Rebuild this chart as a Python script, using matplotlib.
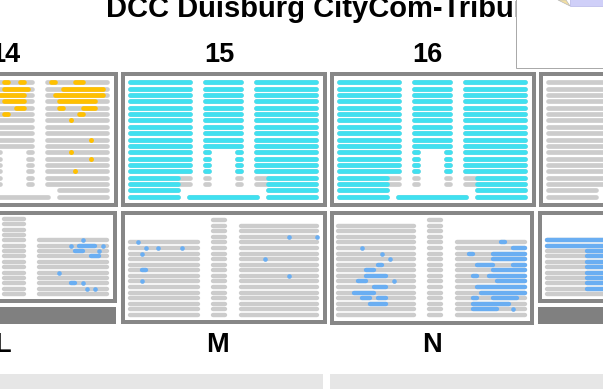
import matplotlib
matplotlib.use("Agg")
import matplotlib.pyplot as plt
from matplotlib.patches import Rectangle, Polygon

# ------------------------------------------------------------------ data
TITLE = "DCC Duisburg CityCom-Tribüne"
TOP_LABELS = ["14", "15", "16"]
BOTTOM_LABELS = ["L", "M", "N"]

STATUS_COLORS = {"g": "#cccccc", "c": "#40e0f0", "y": "#ffc000", "b": "#6aaef2"}

# upper ring: seat ranges per row for each section of a block
TOP_ROWS = {
    "left":   [[(0, 15)]] * 17 + [[(0, 12)]] * 2,
    "mid":    [[(0, 9)]] * 11 + [[(0, 1), (8, 9)]] * 6 + [[]] * 2,
    "right":  [[(0, 15)]] * 17 + [[(3, 15)]] * 2,
    "bottom": [[]] * 18 + [[(0, 17)]],
}
TOP_BLOCKS = ["14", "15", "16", "17"]
TOP_DEFAULT = {"14": "g", "15": "c", "16": "c", "17": "g"}
# (section, row, first seat, last seat, status)
BLOCK14_SEATS = [
    ("mid", 0, 2, 3, "y"), ("mid", 0, 6, 7, "y"), ("right", 0, 1, 2, "y"), ("right", 0, 7, 9, "y"),
    ("mid", 1, 2, 8, "y"), ("right", 1, 4, 14, "y"),
    ("mid", 2, 1, 7, "y"), ("right", 2, 2, 14, "y"),
    ("mid", 3, 2, 7, "y"), ("right", 3, 3, 12, "y"),
    ("mid", 4, 5, 7, "y"), ("right", 4, 3, 4, "y"), ("right", 4, 9, 12, "y"),
    ("mid", 5, 2, 3, "y"), ("right", 5, 8, 9, "y"),
    ("right", 6, 6, 6, "y"), ("right", 9, 11, 11, "y"), ("right", 11, 6, 6, "y"),
    ("right", 12, 11, 11, "y"), ("right", 14, 7, 7, "y"),
]
BLOCK15_SEATS = [
    ("left", 15, 13, 15, "g"), ("left", 16, 13, 15, "g"),
    ("mid", 15, 0, 9, "g"), ("mid", 16, 0, 9, "g"),
    ("right", 15, 0, 2, "g"), ("right", 16, 0, 2, "g"),
]
BLOCK16_SEATS = list(BLOCK15_SEATS)
BLOCK17_SEATS = []
TOP_SEATS = {"14": BLOCK14_SEATS, "15": BLOCK15_SEATS, "16": BLOCK16_SEATS, "17": BLOCK17_SEATS}

# lower ring: (seats per row, number of rows) per section
BOTTOM_SECTIONS = {
    "L": {"mid": (6, 15), "right": (18, 11)},
    "M": {"left": (18, 14), "mid": (4, 18), "right": (20, 17)},
    "N": {"left": (20, 17), "mid": (4, 18), "right": (18, 14)},
    "O": {"left": (18, 11)},
}
# (section, row from top, first seat, last seat, status)
BOTTOM_SEATS = {
    "L": [("right", 0, 11, 11, "b"), ("right", 1, 8, 8, "b"), ("right", 1, 10, 14, "b"),
          ("right", 1, 16, 16, "b"), ("right", 2, 9, 11, "b"), ("right", 2, 15, 15, "b"),
          ("right", 3, 13, 15, "b"), ("right", 6, 5, 5, "b"), ("right", 8, 8, 9, "b"),
          ("right", 8, 11, 11, "b"), ("right", 9, 12, 12, "b"), ("right", 9, 14, 14, "b")],
    "M": [("left", 0, 2, 2, "b"), ("left", 1, 4, 4, "b"), ("left", 1, 7, 7, "b"),
          ("left", 1, 13, 13, "b"), ("left", 2, 3, 3, "b"), ("left", 5, 3, 4, "b"),
          ("left", 7, 3, 3, "b"), ("right", 2, 12, 12, "b"), ("right", 2, 19, 19, "b"),
          ("right", 6, 6, 6, "b"), ("right", 9, 12, 12, "b")],
    "N": [("left", 4, 6, 6, "b"), ("left", 5, 11, 11, "b"), ("left", 6, 13, 13, "b"),
          ("left", 7, 10, 11, "b"), ("left", 8, 7, 9, "b"), ("left", 9, 7, 12, "b"),
          ("left", 10, 5, 7, "b"), ("left", 10, 14, 14, "b"), ("left", 11, 9, 12, "b"),
          ("left", 12, 4, 9, "b"), ("left", 13, 6, 8, "b"), ("left", 13, 10, 12, "b"),
          ("left", 14, 8, 12, "b"),
          ("right", 0, 11, 12, "b"), ("right", 1, 14, 17, "b"), ("right", 2, 3, 4, "b"),
          ("right", 2, 9, 17, "b"), ("right", 3, 9, 17, "b"), ("right", 4, 5, 9, "b"),
          ("right", 4, 14, 17, "b"), ("right", 5, 9, 17, "b"), ("right", 6, 4, 5, "b"),
          ("right", 6, 8, 17, "b"), ("right", 7, 10, 17, "b"), ("right", 8, 5, 17, "b"),
          ("right", 9, 6, 17, "b"), ("right", 10, 4, 5, "b"), ("right", 10, 9, 15, "b"),
          ("right", 11, 4, 13, "b"), ("right", 12, 4, 10, "b"), ("right", 12, 14, 14, "b")],
    "O": [("left", 0, 0, 17, "b"), ("left", 1, 0, 17, "b"), ("left", 2, 10, 17, "b"),
          ("left", 3, 10, 17, "b"), ("left", 4, 10, 17, "b"), ("left", 5, 10, 17, "b"),
          ("left", 6, 10, 17, "b"), ("left", 7, 10, 17, "b"), ("left", 8, 10, 17, "b"),
          ("left", 9, 10, 17, "b")],
}

# ------------------------------------------------------------------ layout (pixels)
W, H = 603, 389
PT = 72.0 / 100.0
SEAT = 4.0
FRAME_C = "#878787"

TOP_FRAME_X = {"14": -88, "15": 121, "16": 330, "17": 539}
TOP_FRAME = (72, 207, 206)           # top, bottom, width
TOP_SEC_X = {"left": 7, "mid": 82, "right": 133, "bottom": 66}
TOP_ROW0, TOP_PITCH, TOP_LW = 82.3, 6.36, 4.7

BOT_FRAME = {"L": (-90, 117, 211, 303), "M": (121, 327, 211, 324),
             "N": (330, 534, 211, 325), "O": (538, 760, 211, 303)}
BOT_SEC_X = {"L": {"mid": 2, "right": 37},
             "M": {"left": 128, "mid": 211, "right": 239},
             "N": {"left": 336, "mid": 427, "right": 455},
             "O": {"left": 545}}
BOT_LAST_ROW = {"L": 294, "M": 315, "N": 315, "O": 294}
BOT_PITCH = {"L": 5.37, "M": 5.59, "N": 5.59, "O": 5.37}
BOT_LW = 4.4

fig = plt.figure(figsize=(W / 100, H / 100), dpi=100)
ax = fig.add_axes([0, 0, 1, 1])
ax.set_xlim(0, W)
ax.set_ylim(H, 0)
ax.axis("off")


def frame(x0, x1, y0, y1, bw=4):
    ax.add_patch(Rectangle((x0 + bw / 2, y0 + bw / 2), x1 - x0 - bw, y1 - y0 - bw,
                           lw=bw * PT, ec=FRAME_C, fc="white", joinstyle="miter", zorder=1))


def seg(x0, x1, y, st, lw):
    r = lw / 2
    a, b = x0 + r, x1 - r
    z = 3 if st != "g" else 2
    if b - a < 0.5:
        m = (x0 + x1) / 2
        ax.plot([m], [y], "o", ms=lw * PT * 1.05, mfc=STATUS_COLORS[st], mec="none", zorder=z)
    else:
        ax.plot([a, b], [y, y], color=STATUS_COLORS[st], lw=lw * PT,
                solid_capstyle="round", zorder=z)


def draw_row(ox, y, ranges, default, overrides, lw):
    status = {}
    for a, b in ranges:
        for s in range(a, b + 1):
            status[s] = default
    for a, b, st in overrides:
        for s in range(a, b + 1):
            if s in status:
                status[s] = st
    for a, b in ranges:
        seg(ox + a * SEAT, ox + (b + 1) * SEAT, y, "g", lw)
    seats = sorted(status)
    i = 0
    while i < len(seats):
        j = i
        while (j + 1 < len(seats) and seats[j + 1] == seats[j] + 1
               and status[seats[j + 1]] == status[seats[i]]):
            j += 1
        st = status[seats[i]]
        if st != "g":
            seg(ox + seats[i] * SEAT, ox + (seats[j] + 1) * SEAT, y, st, lw)
        i = j + 1


# upper ring
for blk in TOP_BLOCKS:
    fx = TOP_FRAME_X[blk]
    frame(fx, fx + TOP_FRAME[2], TOP_FRAME[0], TOP_FRAME[1])
    for sec, rows in TOP_ROWS.items():
        ox = fx + TOP_SEC_X[sec]
        for r, ranges in enumerate(rows):
            ov = [(a, b, st) for (s, rr, a, b, st) in TOP_SEATS[blk] if s == sec and rr == r]
            draw_row(ox, TOP_ROW0 + r * TOP_PITCH, ranges, TOP_DEFAULT[blk], ov, TOP_LW)

# lower ring
for blk, secs in BOTTOM_SECTIONS.items():
    x0, x1, y0, y1 = BOT_FRAME[blk]
    frame(x0, x1, y0, y1)
    for sec, (nseat, nrow) in secs.items():
        ox = BOT_SEC_X[blk][sec]
        for r in range(nrow):
            y = BOT_LAST_ROW[blk] - (nrow - 1 - r) * BOT_PITCH[blk]
            ov = [(a, b, st) for (s, rr, a, b, st) in BOTTOM_SEATS[blk] if s == sec and rr == r]
            draw_row(ox, y, [(0, nseat - 1)], "g", ov, BOT_LW)

# dark structures under the short lower blocks
ax.add_patch(Rectangle((-10, 307), 126, 17, fc="#808080", ec="none", zorder=1))
ax.add_patch(Rectangle((538, 307), 80, 17, fc="#808080", ec="none", zorder=1))

# light strips at the bottom
ax.add_patch(Rectangle((-5, 374), 328, 20, fc="#e6e6e6", ec="none", zorder=1))
ax.add_patch(Rectangle((330, 374), 280, 20, fc="#e6e6e6", ec="none", zorder=1))

# labels
FONT = "Liberation Sans"
ax.text(106, 17, TITLE, fontsize=21, fontweight="bold", family=FONT,
        ha="left", va="baseline", zorder=4)
for lab, x in zip(TOP_LABELS, [5, 219, 427]):
    ax.text(x, 62, lab, fontsize=19.5, fontweight="bold", family=FONT,
            ha="center", va="baseline", zorder=4)
for lab, x in zip(BOTTOM_LABELS, [2.5, 218, 432]):
    ax.text(x, 352, lab, fontsize=19.5, fontweight="bold", family=FONT,
            ha="center", va="baseline", zorder=4)

# overlay box at the top right
ax.add_patch(Rectangle((515.5, -5), 100, 73, fc="white", ec="#aaaaaa", lw=1 * PT, zorder=6))
ax.add_patch(Rectangle((570, -2), 34, 8, fc="#cfcff8", ec="#b8b8e8", lw=0.5, zorder=7))
ax.add_patch(Polygon([[558, 0], [566, 0], [570, 6]], closed=True, fc="#f3dfa0",
                     ec="#bbbbbb", lw=0.5, zorder=7))

fig.savefig("out.png", dpi=100)
